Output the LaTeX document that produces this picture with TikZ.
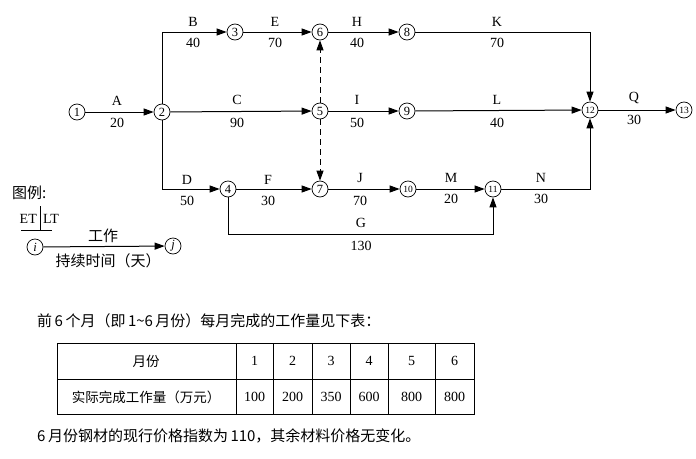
\documentclass[tikz,border=0pt]{standalone}
\usepackage{fontspec}
\setmainfont{Liberation Serif}
\newfontfamily\cjk{Noto Sans CJK SC}
\usetikzlibrary{arrows.meta}
\begin{document}
\begin{tikzpicture}[x=1pt,y=-1pt,
  ev/.style={circle,draw,line width=0.7pt,inner sep=0pt,minimum size=16pt,font=\fontsize{12.5}{12.5}\selectfont},
  evs/.style={ev,font=\fontsize{9.5}{9.5}\selectfont},
  act/.style={draw,line width=1pt,-{Triangle[length=10pt,width=7pt,fill=black]}},
  lbl/.style={font=\fontsize{14}{14}\selectfont,inner sep=0pt},
  cn/.style={font=\cjk\fontsize{15}{15}\selectfont,inner sep=0pt},
  tcn/.style={font=\cjk\fontsize{13.5}{13.5}\selectfont,inner sep=0pt},
  tnum/.style={font=\fontsize{14}{14}\selectfont,inner sep=0pt},
  tline/.style={line width=0.9pt}]
\useasboundingbox (0,0) rectangle (696,458);

% events
\node[ev] (n1) at (77,112) {1};
\node[ev] (n2) at (162,112) {2};
\node[ev] (n3) at (235,32) {3};
\node[ev] (n6) at (320,32) {6};
\node[ev] (n8) at (407,32) {8};
\node[ev] (n5) at (320,111) {5};
\node[ev] (n9) at (407,111) {9};
\node[evs] (n12) at (590,110) {12};
\node[evs] (n13) at (684,110) {13};
\node[ev] (n4) at (228,189) {4};
\node[ev] (n7) at (320,189) {7};
\node[evs] (n10) at (408,189) {10};
\node[evs] (n11) at (493,189) {11};
\coordinate (g) at (493,234);

% activities
\draw[act] (n1) -- (n2);
\draw[act] (n2) |- (n3);
\draw[act] (n3) -- (n6);
\draw[act] (n6) -- (n8);
\draw[act] (n8) -| (n12);
\draw[act] (n2) -- (n5);
\draw[act] (n5) -- (n9);
\draw[act] (n9) -- (n12);
\draw[act] (n12) -- (n13);
\draw[act] (n2) |- (n4);
\draw[act] (n4) -- (n7);
\draw[act] (n7) -- (n10);
\draw[act] (n10) -- (n11);
\draw[act] (n11) -| (n12);
\draw[act] (n4) |- (g) -- (n11);
\draw[act,dash pattern=on 6pt off 4pt] (n5) -- (n6);
\draw[act,dash pattern=on 6pt off 4pt] (n5) -- (n7);

% labels
\node[lbl] (lA) at (117,101) {A};   \node[lbl] (dA) at (117,123) {20};
\node[lbl] (lB) at (193,22) {B};    \node[lbl] (dB) at (193,43) {40};
\node[lbl] (lE) at (275,22) {E};    \node[lbl] (dE) at (275,43) {70};
\node[lbl] (lH) at (357,22) {H};    \node[lbl] (dH) at (357,43) {40};
\node[lbl] (lK) at (497,22) {K};    \node[lbl] (dK) at (497,43) {70};
\node[lbl] (lC) at (237,100) {C};   \node[lbl] (dC) at (237,123) {90};
\node[lbl] (lI) at (357,100) {I};   \node[lbl] (dI) at (357,123) {50};
\node[lbl] (lL) at (497,100) {L};   \node[lbl] (dL) at (497,123) {40};
\node[lbl] (lQ) at (634,98) {Q};    \node[lbl] (dQ) at (634,120) {30};
\node[lbl] (lD) at (187,180) {D};   \node[lbl] (dD) at (187,201) {50};
\node[lbl] (lF) at (268,180) {F};   \node[lbl] (dF) at (268,201) {30};
\node[lbl] (lJ) at (360,178) {J};   \node[lbl] (dJ) at (360,201) {70};
\node[lbl] (lM) at (451,178) {M};   \node[lbl] (dM) at (451,199) {20};
\node[lbl] (lN) at (541,178) {N};   \node[lbl] (dN) at (541,199) {30};
\node[lbl] (lG) at (361,223) {G};   \node[lbl] (dG) at (361,246) {130};

% legend
\node[cn,anchor=west] (leg) at (12,193) {图例:};
\node[lbl,anchor=east] (et) at (37,219) {ET};
\node[lbl,anchor=west] (lt) at (43,219) {LT};
\coordinate (bt) at (40,206);
\coordinate (bb) at (40,230);
\draw[line width=0.8pt] (bt) -- (bb);
\coordinate (ul) at (21,230);
\coordinate (ur) at (52,230);
\draw[line width=0.8pt] (ul) -- (ur);
\node[ev] (li) at (35,247) {\textit{i}};
\node[ev] (lj) at (173,246) {\textit{j}};
\draw[act] (li) -- (lj);
\node[cn] (work) at (103,236) {工作};
\node[cn] (dur) at (108,261) {持续时间（天）};

% text
\node[cn,anchor=west] (t1) at (37,321) {前\,6\,个月（即\,1\textasciitilde6\,月份）每月完成的工作量见下表：};

% table
\draw[tline] (57,343) rectangle (474,414);
\draw[tline] (57,379) -- (474,379);
\foreach \x in {236,273,312,350,388,435} \draw[tline] (\x,343) -- (\x,414);
\node[tcn] (h0) at (146,361) {月份};
\node[tcn] (r0) at (146,397) {实际完成工作量（万元）};
\node[tnum] (h1) at (254.5,361) {1};
\node[tnum] (h2) at (292.5,361) {2};
\node[tnum] (h3) at (331,361) {3};
\node[tnum] (h4) at (369,361) {4};
\node[tnum] (h5) at (411.5,361) {5};
\node[tnum] (h6) at (454.5,361) {6};
\node[tnum] (v1) at (254.5,397) {100};
\node[tnum] (v2) at (292.5,397) {200};
\node[tnum] (v3) at (331,397) {350};
\node[tnum] (v4) at (369,397) {600};
\node[tnum] (v5) at (411.5,397) {800};
\node[tnum] (v6) at (454.5,397) {800};

\node[cn,anchor=west] (t2) at (37,436) {6\,月份钢材的现行价格指数为\,110，其余材料价格无变化。};
\end{tikzpicture}
\end{document}
